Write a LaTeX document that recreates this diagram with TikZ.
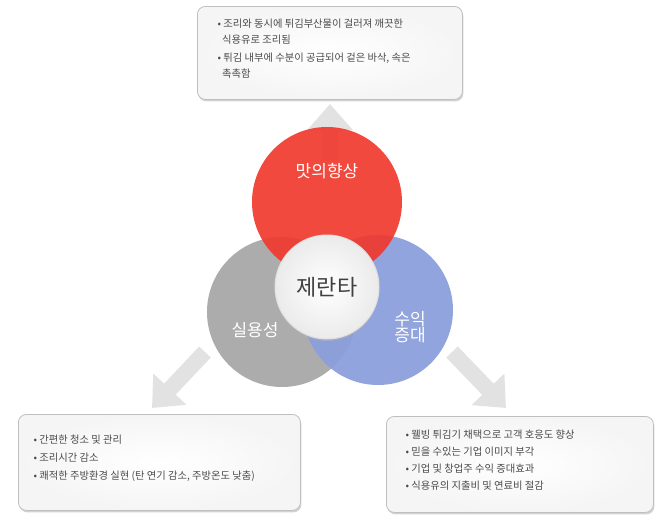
\documentclass[tikz,border=0pt]{standalone}
\usepackage{fontspec}
\setmainfont{Noto Sans CJK KR}
\usetikzlibrary{arrows.meta,shadows}
\definecolor{txt}{HTML}{4A4A4A}
\definecolor{redc}{HTML}{F0392E}
\definecolor{grayc}{HTML}{A8A8A8}
\definecolor{bluec}{HTML}{8C9FDB}
\definecolor{arr}{HTML}{E2E2E2}
\tikzset{
  infobox/.style={draw=black!25,line width=0.8pt,rounded corners=8pt,fill=white,
    drop shadow={shadow xshift=1pt,shadow yshift=-2pt,fill=black!35},
    inner color=white,outer color=black!4},
  itemtxt/.style={text=txt,font=\fontsize{10.3}{16}\selectfont,align=left,anchor=north west},
  bigarrow/.style={draw=arr,line width=16pt,-{Triangle[length=26pt,width=44pt]}},
  circlab/.style={text=white,font=\fontsize{17}{19}\selectfont,align=center}
}
\begin{document}
\begin{tikzpicture}[x=1pt,y=-1pt]
\useasboundingbox (0,0) rectangle (670,525);
% arrows
\coordinate (ua) at (330,160); \coordinate (ub) at (330,104);
\coordinate (la) at (205,352); \coordinate (lb) at (152,408);
\coordinate (ra) at (452,352); \coordinate (rb) at (506,408);
\draw[bigarrow] (ua) -- (ub);
\draw[bigarrow] (la) -- (lb);
\draw[bigarrow] (ra) -- (rb);
% boxes
\node[infobox,minimum width=265pt,minimum height=93pt,anchor=north west] (top) at (197,6) {};
\node[itemtxt] at (214,15) {• 조리와 동시에 튀김부산물이 걸러져 깨끗한\\\ \ 식용유로 조리됨\\[2pt]• 튀김 내부에 수분이 공급되어 겉은 바삭, 속은\\\ \ 촉촉함};
\node[infobox,minimum width=282pt,minimum height=96pt,anchor=north west] (bl) at (18,414) {};
\node[itemtxt] at (30,431) {• 간편한 청소 및 관리\\[2pt]• 조리시간 감소\\[2pt]• 쾌적한 주방환경 실현 (탄 연기 감소, 주방온도 낮춤)};
\node[infobox,minimum width=267pt,minimum height=96pt,anchor=north west] (br) at (386,416) {};
\node[itemtxt] at (402,426) {• 웰빙 튀김기 채택으로 고객 호응도 향상\\[1pt]• 믿을 수있는 기업 이미지 부각\\[1pt]• 기업 및 창업주 수익 증대효과\\[1pt]• 식용유의 지출비 및 연료비 절감};
% circles
\fill[grayc,opacity=0.95] (282,312) circle (75);
\fill[bluec,opacity=0.95] (378,310) circle (75);
\fill[redc,opacity=0.92] (327,202) circle (75);
\node[circle,minimum size=104pt,draw=black!12,line width=1pt,inner color=white,outer color=black!8,
  drop shadow={shadow xshift=0pt,shadow yshift=-2pt,fill=black!30}] (c) at (327,287) {};
\node[circlab] (t1) at (327,171) {맛의향상};
\node[circlab] (t2) at (255,330) {실용성};
\node[circlab] (t3) at (410,327) {수익\\[-3pt]증대};
\node[text=black!75,font=\fontsize{22}{24}\selectfont] (t0) at (c) {제란타};
\end{tikzpicture}
\end{document}
